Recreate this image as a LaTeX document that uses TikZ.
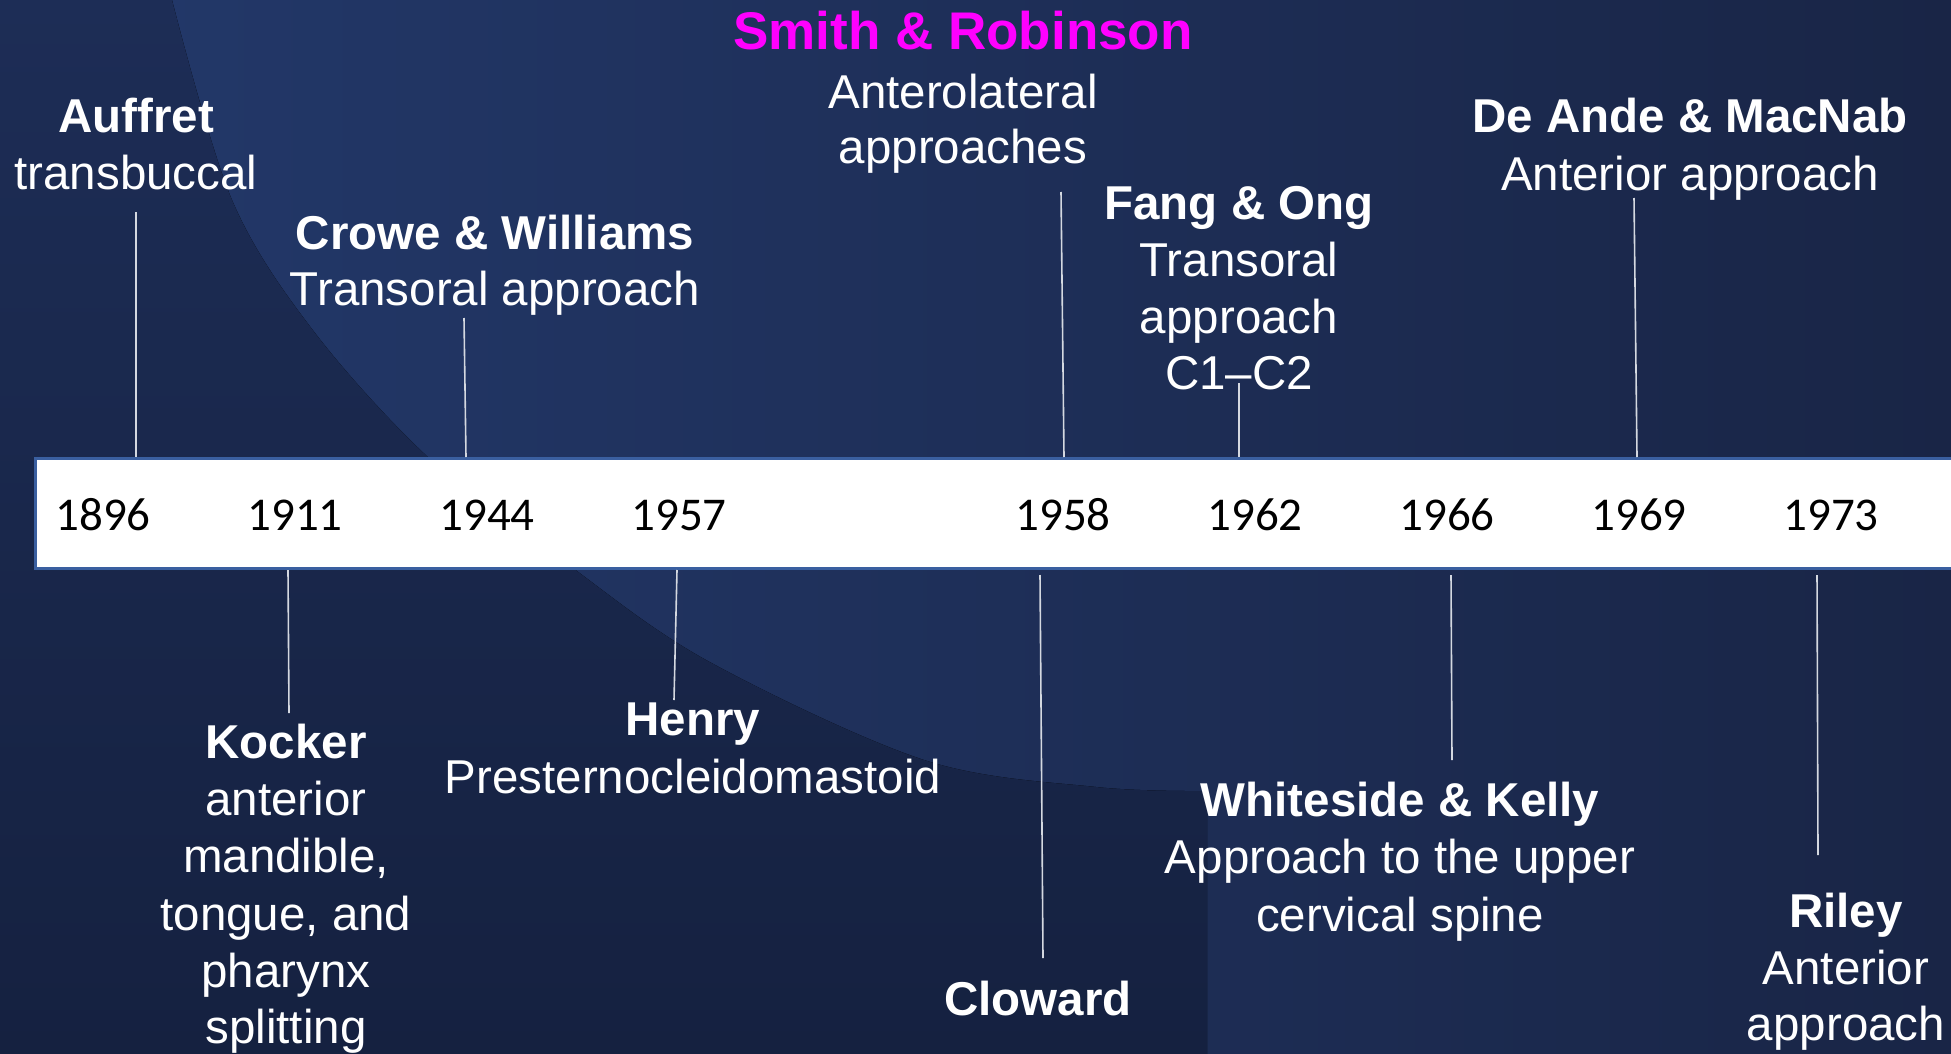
\documentclass[tikz,border=0pt]{standalone}
\usepackage{fontspec}
\setmainfont{Liberation Sans}
\newfontfamily\yearfont{Carlito}
\definecolor{bgIn}{HTML}{23396B}
\definecolor{bgInR}{HTML}{192546}
\definecolor{bgOut}{HTML}{1D2D56}
\definecolor{bgOutD}{HTML}{152140}
\definecolor{barBorder}{HTML}{3A5FA0}
\definecolor{lineCol}{HTML}{D4D8E0}
\definecolor{magT}{HTML}{FF00FF}
\tikzset{
  ttl/.style={anchor=base, inner sep=0pt, text=white, font=\bfseries\fontsize{47.5}{57}\selectfont},
  bdy/.style={anchor=base, inner sep=0pt, text=white, font=\fontsize{47.5}{57}\selectfont},
  yr/.style={anchor=base, inner sep=0pt, text=black, font=\yearfont\fontsize{47}{56}\selectfont},
  conn/.style={draw=lineCol, line width=1.6pt},
  barbox/.style={draw=barBorder, line width=3pt, fill=white, inner sep=0pt, outer sep=0pt, minimum width=1960pt, minimum height=110pt, anchor=north west}
}
\begin{document}
\begin{tikzpicture}[x=1pt,y=-1pt]
\useasboundingbox (0,0) rectangle (1951,1054);
\clip (0,0) rectangle (1951,1054);
% background
\fill[left color=bgIn, right color=bgInR] (0,0) rectangle (1951,1054);
\fill[top color=bgOut, bottom color=bgOutD]
  (0,0) -- (172,0) --
  plot[smooth, tension=0.55] coordinates {(172,0) (232,200) (315,333) (431,460) (562,560) (706,660) (924,760) (1096,787) (1207,791)}
  -- (1207,1054) -- (0,1054) -- cycle;
% bar
\node[barbox] (bar) at (35,458.5) {};
% years
\node[yr] (y1896) at (103,530) {1896};
\node[yr] (y1911) at (295,530) {1911};
\node[yr] (y1944) at (487,530) {1944};
\node[yr] (y1957) at (679,530) {1957};
\node[yr] (y1958) at (1063,530) {1958};
\node[yr] (y1962) at (1255,530) {1962};
\node[yr] (y1966) at (1447,530) {1966};
\node[yr] (y1969) at (1639,530) {1969};
\node[yr] (y1973) at (1831,530) {1973};
% top labels
\node[ttl] (auT) at (136,133) {Auffret};
\node[bdy] (auB) at (136,189) {transbuccal};
\node[ttl] (crT) at (495,249) {Crowe \& Williams};
\node[bdy] (crB) at (495,305) {Transoral approach};
\node[ttl, text=magT, font=\bfseries\fontsize{53}{63}\selectfont] (smT) at (963,50) {Smith \& Robinson};
\node[bdy] (smB1) at (963,109) {Anterolateral};
\node[bdy] (smB2) at (963,164) {approaches};
\node[ttl] (faT) at (1239,219) {Fang \& Ong};
\node[bdy] (faB1) at (1239,276) {Transoral};
\node[bdy] (faB2) at (1239,333) {approach};
\node[bdy] (faB3) at (1239,389) {C1–C2};
\node[ttl] (deT) at (1690,133) {De Ande \& MacNab};
\node[bdy] (deB) at (1690,190) {Anterior approach};
% bottom labels
\node[ttl] (koT) at (286,758) {Kocker};
\node[bdy] (koB1) at (286,815) {anterior};
\node[bdy] (koB2) at (286,872) {mandible,};
\node[bdy] (koB3) at (286,930) {tongue, and};
\node[bdy] (koB4) at (286,987) {pharynx};
\node[bdy] (koB5) at (286,1043) {splitting};
\node[ttl] (heT) at (693,735) {Henry};
\node[bdy] (heB) at (693,793) {Presternocleidomastoid};
\node[ttl] (clT) at (1038,1015) {Cloward};
\node[ttl] (whT) at (1400,816) {Whiteside \& Kelly};
\node[bdy] (whB1) at (1400,873) {Approach to the upper};
\node[bdy] (whB2) at (1400,931) {cervical spine};
\node[ttl] (riT) at (1846,927) {Riley};
\node[bdy] (riB1) at (1846,984) {Anterior};
\node[bdy] (riB2) at (1846,1040) {approach};
% connector ends
\coordinate (au1) at (136,212);  \coordinate (au2) at (136,457);
\coordinate (cr1) at (464,318);  \coordinate (cr2) at (466,457);
\coordinate (sm1) at (1061,192); \coordinate (sm2) at (1064,457);
\coordinate (fa1) at (1239,383); \coordinate (fa2) at (1239,457);
\coordinate (de1) at (1634,198); \coordinate (de2) at (1637,457);
\coordinate (ko1) at (288,570);  \coordinate (ko2) at (289,713);
\coordinate (he1) at (677,570);  \coordinate (he2) at (674,700);
\coordinate (cl1) at (1040,575); \coordinate (cl2) at (1043,958);
\coordinate (wh1) at (1451,575); \coordinate (wh2) at (1452,760);
\coordinate (ri1) at (1817,575); \coordinate (ri2) at (1818,855);
\draw[conn] (au1) -- (au2);
\draw[conn] (cr1) -- (cr2);
\draw[conn] (sm1) -- (sm2);
\draw[conn] (fa1) -- (fa2);
\draw[conn] (de1) -- (de2);
\draw[conn] (ko1) -- (ko2);
\draw[conn] (he1) -- (he2);
\draw[conn] (cl1) -- (cl2);
\draw[conn] (wh1) -- (wh2);
\draw[conn] (ri1) -- (ri2);
\end{tikzpicture}
\end{document}
